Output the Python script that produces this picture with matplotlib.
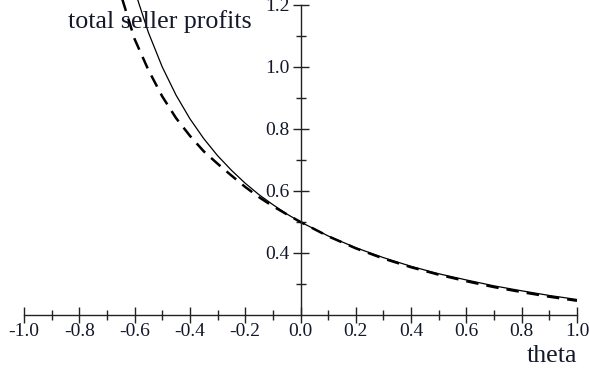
import matplotlib.pyplot as plt
from matplotlib.ticker import MultipleLocator, FixedLocator

plt.rcParams['font.family'] = ['Liberation Serif', 'DejaVu Serif']
plt.rcParams['axes.unicode_minus'] = False

# values
theta_solid = [-0.59, -0.55, -0.5, -0.45, -0.4, -0.35, -0.3, -0.25, -0.2, -0.15,
               -0.1, -0.05, 0.0, 0.1, 0.2, 0.3, 0.4, 0.5, 0.6, 0.7, 0.8, 0.9, 1.0]
profit_solid = [1.220, 1.111, 1.000, 0.909, 0.833, 0.769, 0.714, 0.667, 0.625, 0.588,
                0.556, 0.526, 0.500, 0.455, 0.417, 0.385, 0.357, 0.333, 0.313, 0.294,
                0.278, 0.263, 0.250]

theta_dash = [-0.645, -0.6, -0.55, -0.5, -0.45, -0.4, -0.35, -0.3, -0.25, -0.2, -0.15,
              -0.1, -0.05, 0.0, 0.1, 0.2, 0.3, 0.4, 0.5, 0.6, 0.7, 0.8, 0.9, 1.0]
profit_dash = [1.22, 1.09, 0.99, 0.905, 0.835, 0.778, 0.728, 0.688, 0.650, 0.613, 0.580,
               0.551, 0.525, 0.500, 0.454, 0.415, 0.382, 0.354, 0.330, 0.309, 0.290,
               0.274, 0.259, 0.246]

xticks = [-1.0, -0.8, -0.6, -0.4, -0.2, 0.0, 0.2, 0.4, 0.6, 0.8, 1.0]
yticks = [0.4, 0.6, 0.8, 1.0, 1.2]

txt = '#14182a'
W, H = 589, 370
fig = plt.figure(figsize=(W / 100, H / 100), dpi=100)
ax = fig.add_axes([24 / W, 55 / H, 553 / W, 315 / H])

ax.plot(theta_solid, profit_solid, color='black', lw=0.9)
ax.plot(theta_dash, profit_dash, color='black', lw=1.8, dashes=(5, 3.2))

ax.set_xlim(-1.0, 1.0)
ax.set_ylim(0.2, 1.216)

for s in ['top', 'right']:
    ax.spines[s].set_visible(False)
ax.spines['left'].set_position(('data', 0.0))
ax.spines['left'].set_bounds(0.2, 1.2)
ax.spines['bottom'].set_position(('data', 0.2))
for s in ['left', 'bottom']:
    ax.spines[s].set_linewidth(1.0)
    ax.spines[s].set_color('#222222')

ax.xaxis.set_major_locator(FixedLocator(xticks))
ax.xaxis.set_minor_locator(MultipleLocator(0.1))
ax.yaxis.set_major_locator(FixedLocator(yticks))
ax.yaxis.set_minor_locator(FixedLocator([0.3, 0.5, 0.7, 0.9, 1.1]))
ax.set_xticklabels([f'{v:.1f}' for v in xticks])
ax.set_yticklabels([f'{v:.1f}' for v in yticks])

ax.tick_params(axis='both', which='major', direction='inout', length=12, width=1.0,
               colors='#222222', labelcolor=txt, labelsize=14)
ax.tick_params(axis='both', which='minor', direction='inout', length=7, width=1.0,
               colors='#222222')
ax.tick_params(axis='x', which='major', pad=0)
ax.tick_params(axis='y', which='major', pad=2)

fig.text(68 / W, (H - 28) / H, 'total seller profits', fontsize=18.7, color=txt,
         ha='left', va='baseline')
fig.text(577 / W, (H - 362) / H, 'theta', fontsize=18.7, color=txt,
         ha='right', va='baseline')

fig.savefig('out.png', dpi=100)
